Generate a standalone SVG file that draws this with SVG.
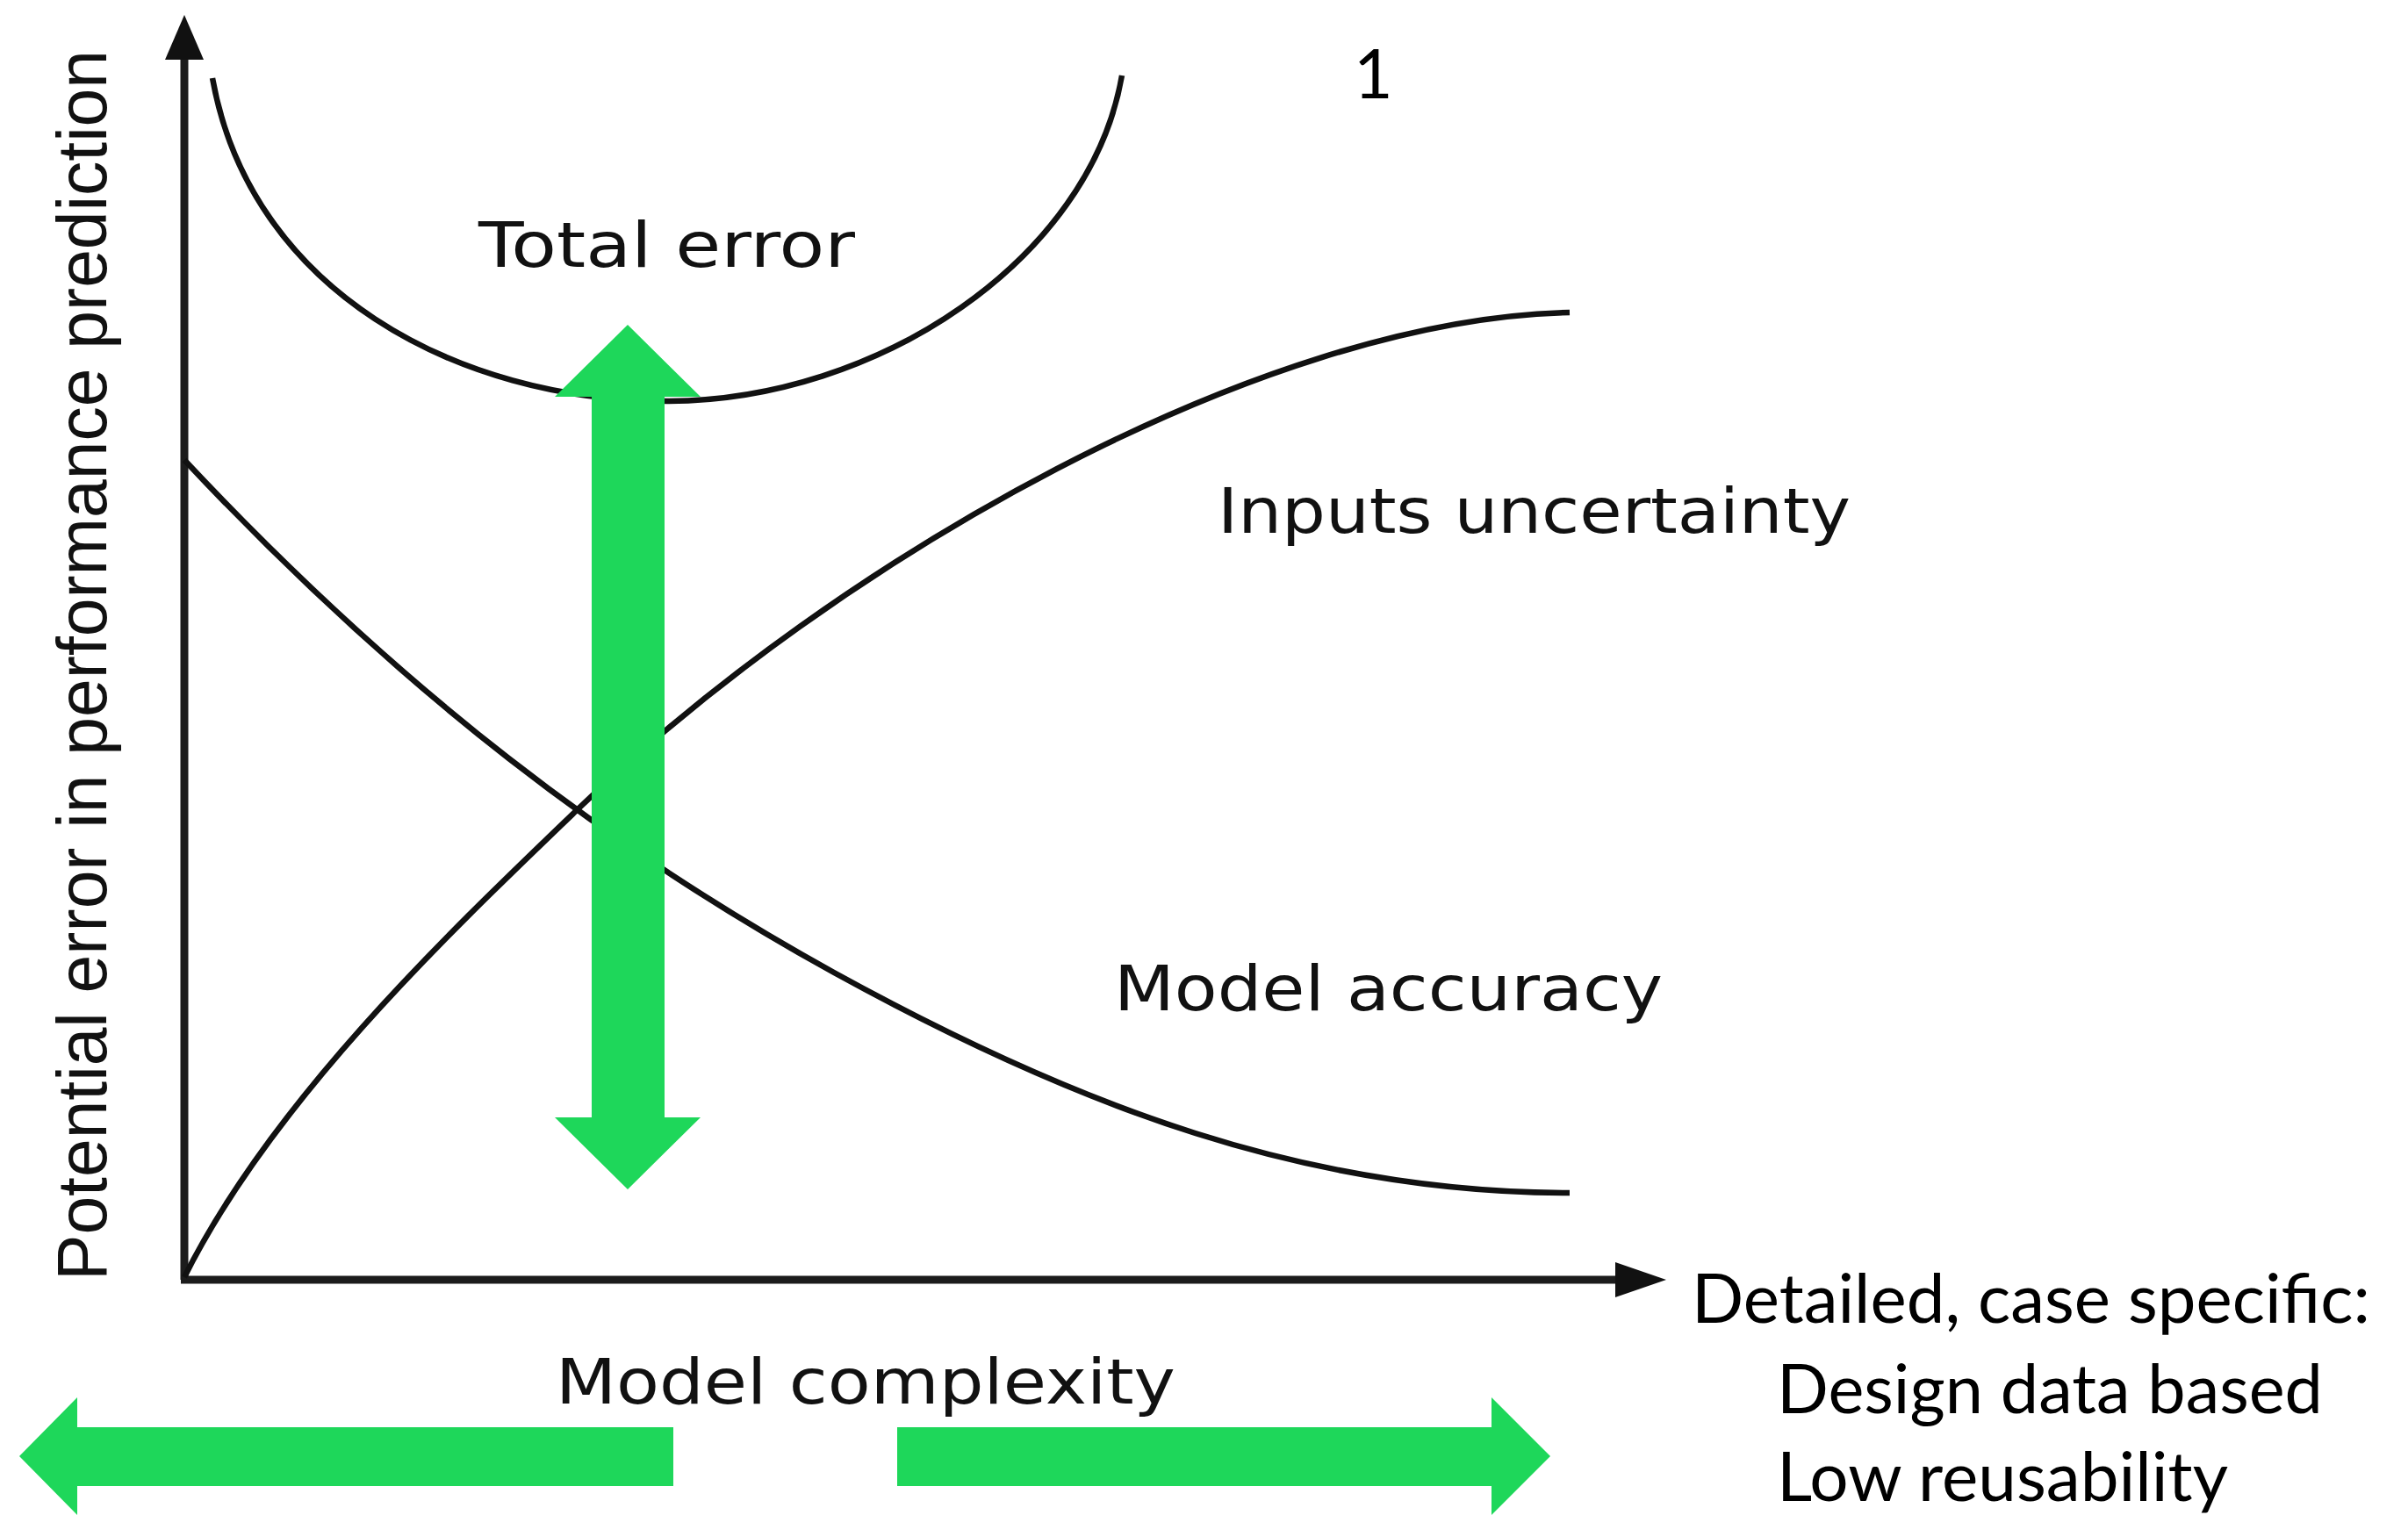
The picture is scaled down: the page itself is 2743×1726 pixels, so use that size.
<svg xmlns="http://www.w3.org/2000/svg" width="2743" height="1726" viewBox="0 0 2743 1726">
  <style>
    .axis { stroke: #1c1c1c; stroke-width: 9; fill: none; }
    .curve { stroke: #111; stroke-width: 6.5; fill: none; stroke-linecap: butt; }
    .green { fill: #1ed75a; }
    .lbl { font-family: "DejaVu Sans", Verdana, sans-serif; font-size: 72px; fill: #111; }
    .ylbl { font-family: "Liberation Sans", Arial, sans-serif; font-size: 80px; fill: #111; }
    .cal { font-family: Lato, "Open Sans", sans-serif; font-size: 77px; fill: #000; }
  </style>
  <rect width="2743" height="1726" fill="#ffffff"/>

  <g id="connectors">
    <g id="axes">
      <line class="axis" x1="210" y1="1458" x2="210" y2="60"/>
      <polygon points="210,17 232,68 188,68" fill="#111"/>
      <line class="axis" x1="206" y1="1458" x2="1845" y2="1458"/>
      <polygon points="1898,1458 1840,1438 1840,1478" fill="#111"/>
    </g>
    <g id="curves">
      <path id="total-error-curve" class="curve" d="M242,89 C285,330 520,457 760,457 C1000,457 1242,295 1278,86"/>
      <path id="model-accuracy-curve" class="curve" d="M210,524 C460,791 700,970 950,1108 C1230,1262 1490,1359 1788,1359"/>
      <path id="inputs-uncertainty-curve" class="curve" d="M210,1455 C310,1255 507,1067 657,923 C957,635 1438,363 1788,356"/>
    </g>
  </g>

  <g id="arrow-vertical">
    <polygon class="green" points="715,370 798,452 757,452 757,1273 798,1273 715,1355 632,1273 674,1273 674,452 632,452"/>
  </g>
  <g id="arrow-left">
    <polygon class="green" points="22,1659 88,1592 88,1626 767,1626 767,1693 88,1693 88,1726"/>
  </g>
  <g id="arrow-right">
    <polygon class="green" points="1022,1626 1699,1626 1699,1592 1766,1659 1699,1726 1699,1693 1022,1693"/>
  </g>

  <g id="label-y-axis">
    <text class="ylbl" transform="translate(121,1459) rotate(-90)" x="0" y="0" textLength="1402" lengthAdjust="spacingAndGlyphs">Potential error in performance prediction</text>
  </g>
  <g id="label-total-error">
    <text class="lbl" x="545" y="304" textLength="429" lengthAdjust="spacingAndGlyphs">Total error</text>
  </g>
  <g id="label-inputs-uncertainty">
    <text class="lbl" x="1387" y="607" textLength="721" lengthAdjust="spacingAndGlyphs">Inputs uncertainty</text>
  </g>
  <g id="label-model-accuracy">
    <text class="lbl" x="1269" y="1151" textLength="625" lengthAdjust="spacingAndGlyphs">Model accuracy</text>
  </g>
  <g id="label-model-complexity">
    <text class="lbl" x="633" y="1599" textLength="706" lengthAdjust="spacingAndGlyphs">Model complexity</text>
  </g>
  <g id="label-one">
    <text class="cal" x="1542" y="112">1</text>
  </g>
  <g id="label-detailed">
    <text class="cal" x="1927" y="1507" textLength="773" lengthAdjust="spacingAndGlyphs">Detailed, case specific:</text>
    <text class="cal" x="2024" y="1610" textLength="622" lengthAdjust="spacingAndGlyphs">Design data based</text>
    <text class="cal" x="2024" y="1710" textLength="514" lengthAdjust="spacingAndGlyphs">Low reusability</text>
  </g>
</svg>
